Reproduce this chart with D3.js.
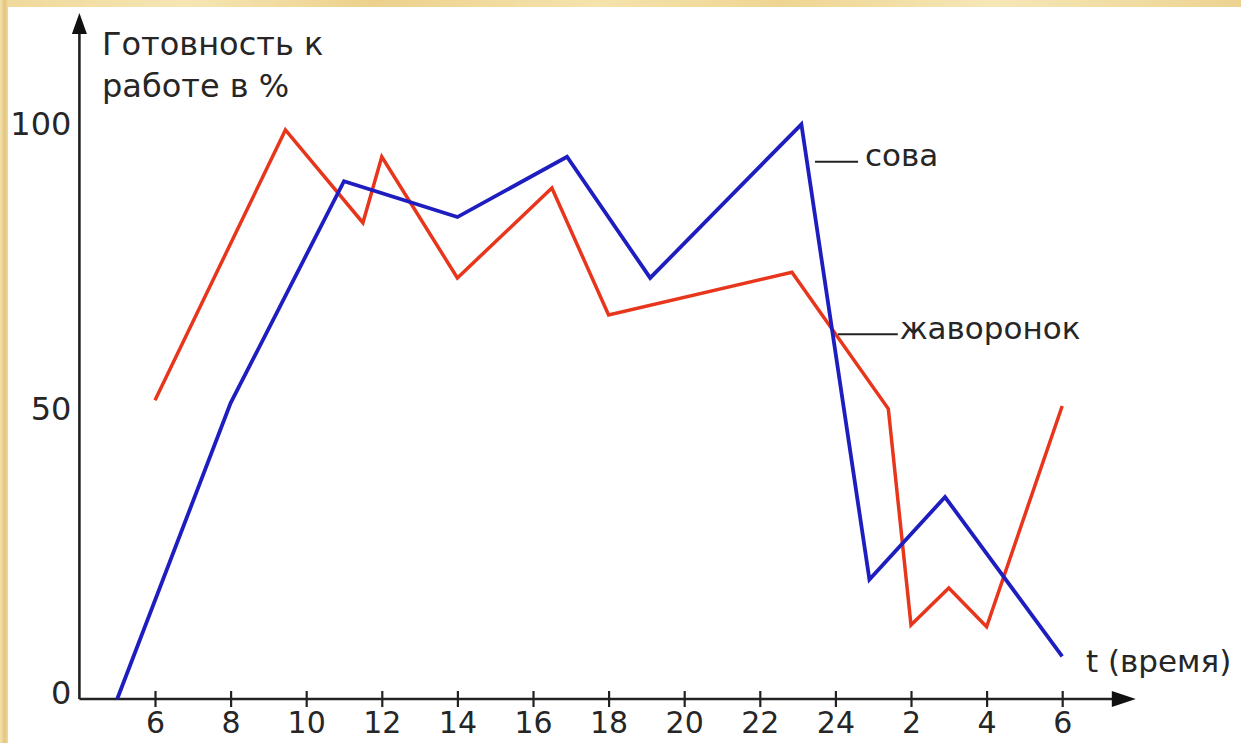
<!DOCTYPE html>
<html>
<head>
<meta charset="utf-8">
<script src="https://cdn.jsdelivr.net/npm/d3@7"></script>
<style>
  html, body { margin: 0; padding: 0; background: #fff; }
  svg { display: block; }
  text { font-family: "DejaVu Sans", sans-serif; fill: #262626; }
</style>
</head>
<body>
<div id="chart"></div>
<script>
// hours on the time axis (after 24 the clock starts again: 26 = 2 am)
var hours = [6, 8, 10, 12, 14, 16, 18, 20, 22, 24, 26, 28, 30];
var hourLabels = ["6", "8", "10", "12", "14", "16", "18", "20", "22", "24", "2", "4", "6"];
var readyTicks = [0, 50, 100];

// "сова" (owl)
var sovaT = [5, 8, 11, 14, 16.9, 19.1, 23.1, 24.9, 26.9, 30];
var sovaV = [0, 52, 91, 84.7, 95.3, 74, 101, 21, 35.5, 7.5];

// "жаворонок" (lark)
var zhavT = [6, 9.45, 11.5, 12, 14, 16.5, 18, 22.85, 25.4, 26, 27, 28, 30];
var zhavV = [52.5, 100, 83.7, 95.3, 74, 89.8, 67.5, 75, 51, 13, 19.5, 12.7, 51.5];

var W = 1241, H = 743;

var svg = d3.select("#chart")
  .append("svg")
    .attr("width", W)
    .attr("height", H);

// slide background: golden strips on the top and left edge
var defs = svg.append("defs");
var gTop = defs.append("linearGradient").attr("id", "goldTop");
[["0%", "#efd89a"], ["15%", "#f6e6b4"], ["30%", "#ecd18c"], ["48%", "#f5e3ad"],
 ["63%", "#eed592"], ["80%", "#f6e7b7"], ["100%", "#ecd391"]].forEach(function(s) {
  gTop.append("stop").attr("offset", s[0]).attr("stop-color", s[1]);
});
var gLeft = defs.append("linearGradient").attr("id", "goldLeft")
  .attr("x1", 0).attr("x2", 1).attr("y1", 0).attr("y2", 0);
gLeft.append("stop").attr("offset", "0%").attr("stop-color", "#f3e2ad");
gLeft.append("stop").attr("offset", "60%").attr("stop-color", "#e3c57e");
gLeft.append("stop").attr("offset", "100%").attr("stop-color", "#efdaa0");

svg.append("rect").attr("width", W).attr("height", H).attr("fill", "#fff");
svg.append("rect").attr("width", W).attr("height", 7).attr("fill", "url(#goldTop)");
svg.append("rect").attr("width", 8).attr("height", H).attr("fill", "url(#goldLeft)");

// scales
var x = d3.scaleLinear()
  .domain([4, 32])
  .range([79.4, 1137.8]);

var y = d3.scaleLinear()
  .domain([0, 100])
  .range([699, 130]);

// X axis with ticks crossing the line
var xAxis = svg.append("g")
  .attr("transform", "translate(0," + y(0) + ")")
  .call(d3.axisBottom(x)
    .tickValues(hours)
    .tickFormat(function(d, i) { return hourLabels[i]; })
    .tickSize(8)
    .tickPadding(5));
xAxis.select(".domain").remove();
xAxis.selectAll(".tick line")
  .attr("y1", -8)
  .attr("stroke", "#222")
  .attr("stroke-width", 2.2);
xAxis.selectAll(".tick text")
  .attr("font-size", 30)
  .attr("font-family", "DejaVu Sans")
  .attr("fill", "#262626");

// Y axis labels only
var yAxis = svg.append("g")
  .attr("transform", "translate(" + x(4) + ",0)")
  .call(d3.axisLeft(y)
    .tickValues(readyTicks)
    .tickSize(0)
    .tickPadding(8));
yAxis.select(".domain").remove();
yAxis.selectAll(".tick text")
  .attr("font-size", 32)
  .attr("font-family", "DejaVu Sans")
  .attr("fill", "#262626")
  .attr("dy", "0.15em");

// axis lines with arrows
var x0 = x(4), y0 = y(0);
svg.append("line")
  .attr("x1", x0).attr("y1", y0)
  .attr("x2", x(32) - 24).attr("y2", y0)
  .attr("stroke", "#222").attr("stroke-width", 2.6);
svg.append("path")
  .attr("d", "M" + (x(32) - 26) + "," + (y0 - 8) + "L" + (x(32) - 2) + "," + y0 + "L" + (x(32) - 26) + "," + (y0 + 8) + "Z")
  .attr("fill", "#111");
svg.append("line")
  .attr("x1", x0).attr("y1", y0)
  .attr("x2", x0).attr("y2", 32)
  .attr("stroke", "#222").attr("stroke-width", 2.6);
svg.append("path")
  .attr("d", "M" + (x0 - 7.5) + ",34L" + x0 + ",13L" + (x0 + 7.5) + ",34Z")
  .attr("fill", "#111");

// lines
var line = d3.line()
  .x(function(d) { return x(d[0]); })
  .y(function(d) { return y(d[1]); });

svg.append("path")
  .datum(zhavT.map(function(t, i) { return [t, zhavV[i]]; }))
  .attr("fill", "none")
  .attr("stroke", "#e8361c")
  .attr("stroke-width", 3.5)
  .attr("stroke-linejoin", "miter")
  .attr("d", line);

svg.append("path")
  .datum(sovaT.map(function(t, i) { return [t, sovaV[i]]; }))
  .attr("fill", "none")
  .attr("stroke", "#1e1ec0")
  .attr("stroke-width", 3.8)
  .attr("stroke-linejoin", "miter")
  .attr("d", line);

// axis titles
var title = svg.append("text")
  .attr("x", 102)
  .attr("font-size", 32);
title.append("tspan").attr("x", 102).attr("y", 55).text("Готовность к");
title.append("tspan").attr("x", 102).attr("y", 97).text("работе в %");

svg.append("text")
  .attr("x", 1086).attr("y", 672)
  .attr("font-size", 31)
  .text("t (время)");

// series labels with leader lines
svg.append("line")
  .attr("x1", x(23.46)).attr("y1", y(94.4))
  .attr("x2", x(24.6)).attr("y2", y(94.4))
  .attr("stroke", "#222").attr("stroke-width", 2);
svg.append("text")
  .attr("x", x(24.78)).attr("y", 166)
  .attr("font-size", 31)
  .text("сова");

svg.append("line")
  .attr("x1", x(24.07)).attr("y1", y(64.1))
  .attr("x2", x(25.65)).attr("y2", y(64.1))
  .attr("stroke", "#222").attr("stroke-width", 2);
svg.append("text")
  .attr("x", x(25.7)).attr("y", 339)
  .attr("font-size", 31)
  .text("жаворонок");
</script>
</body>
</html>
